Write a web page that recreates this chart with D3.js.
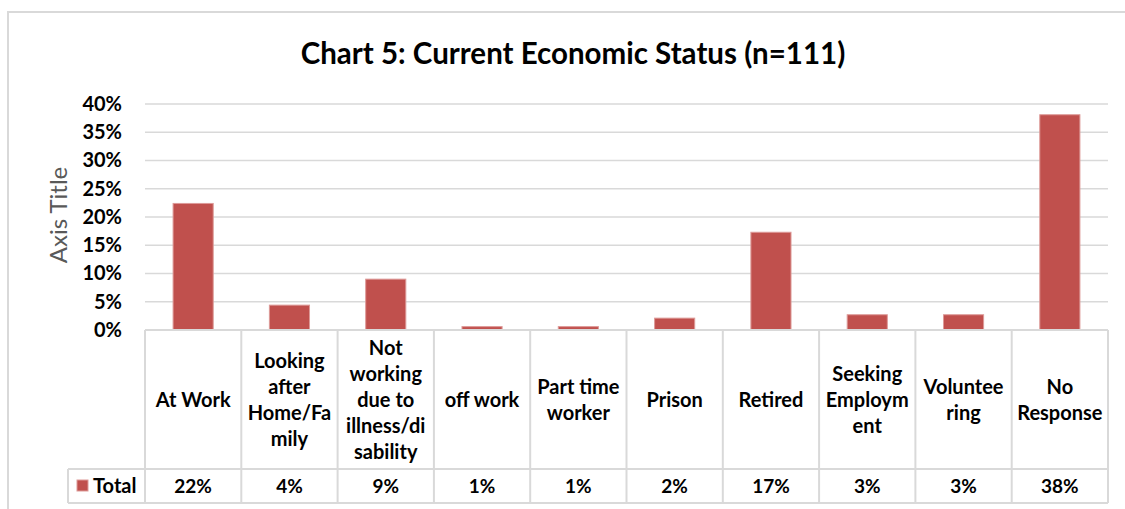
<!DOCTYPE html>
<html>
<head>
<meta charset="utf-8">
<script src="https://cdn.jsdelivr.net/npm/d3@7"></script>
<style>
  html, body { margin: 0; padding: 0; background: #fff; }
  svg { display: block; font-family: Lato, "Liberation Sans", sans-serif; }
</style>
</head>
<body>
<svg id="chart" width="1125" height="509"></svg>
<script>
// Economic status of respondents (n=111)
const categories = ["At Work", "Looking after Home/Family", "Not working due to illness/disability",
  "off work", "Part time worker", "Prison", "Retired", "Seeking Employment", "Volunteering", "No Response"];
// Wrapped header text shown in the data table
const categoryLines = [
  ["At Work"],
  ["Looking", "after", "Home/Fa", "mily"],
  ["Not", "working", "due to", "illness/di", "sability"],
  ["off work"],
  ["Part time", "worker"],
  ["Prison"],
  ["Retired"],
  ["Seeking", "Employm", "ent"],
  ["Voluntee", "ring"],
  ["No", "Response"]
];
const totals = [0.224, 0.044, 0.090, 0.006, 0.006, 0.021, 0.173, 0.027, 0.027, 0.381];
const yTicks = [0, 0.05, 0.10, 0.15, 0.20, 0.25, 0.30, 0.35, 0.40];
const seriesName = "Total";
const chartTitle = "Chart 5: Current Economic Status (n=111)";
const axisTitle = "Axis Title";

const svg = d3.select("#chart");
const W = 1125, H = 509;
const plot = { left: 145, right: 1108, top: 104, bottom: 330 };
const tableValueTop = 469, tableBottom = 503, legendLeft = 68;
const gridColor = "#d9d9d9";
const barColor = "#c0504d";
const fmt = d3.format(".0%");

// Outer chart frame
svg.append("path")
  .attr("d", `M8,${H} L8,12 L${W},12`)
  .attr("fill", "none").attr("stroke", gridColor).attr("stroke-width", 2);

// Title
svg.append("text")
  .attr("x", 573).attr("y", 64)
  .attr("text-anchor", "middle")
  .attr("font-size", 29.5).attr("font-weight", 700).attr("fill", "#000")
  .text(chartTitle);

const x = d3.scaleBand().domain(categories).range([plot.left, plot.right]).paddingInner(0).paddingOuter(0);
const y = d3.scaleLinear().domain([0, 0.40]).range([plot.bottom, plot.top]);

// Gridlines
svg.append("g")
  .selectAll("line").data(yTicks.slice(1)).join("line")
  .attr("x1", plot.left).attr("x2", plot.right)
  .attr("y1", d => y(d)).attr("y2", d => y(d))
  .attr("stroke", gridColor).attr("stroke-width", 1.5);

// Y axis labels
const yAxis = d3.axisLeft(y).tickValues(yTicks).tickFormat(fmt).tickSize(0).tickPadding(0);
const yg = svg.append("g").attr("transform", `translate(122,0)`).call(yAxis);
yg.select(".domain").remove();
yg.selectAll("text")
  .attr("font-family", "Lato, sans-serif")
  .attr("font-size", 20).attr("font-weight", 700).attr("fill", "#000");

// Axis title
svg.append("text")
  .attr("transform", `translate(67,${(plot.top + plot.bottom) / 2 - 2}) rotate(-90)`)
  .attr("text-anchor", "middle")
  .attr("font-size", 24).attr("fill", "#595959")
  .text(axisTitle);

// Bars
const barW = x.bandwidth() / 2.4;
svg.append("g")
  .selectAll("rect").data(categories).join("rect")
  .attr("x", d => x(d) + (x.bandwidth() - barW) / 2)
  .attr("width", barW)
  .attr("y", (d, i) => y(totals[i]))
  .attr("height", (d, i) => y(0) - y(totals[i]))
  .attr("fill", barColor)
  .attr("stroke", "#dd9a98").attr("stroke-width", 1);

// Data table grid
const tg = svg.append("g").attr("stroke", gridColor).attr("stroke-width", 2).attr("fill", "none");
tg.append("line").attr("x1", plot.left).attr("x2", plot.right).attr("y1", plot.bottom).attr("y2", plot.bottom);
tg.append("line").attr("x1", legendLeft).attr("x2", plot.right).attr("y1", tableValueTop).attr("y2", tableValueTop);
tg.append("line").attr("x1", legendLeft).attr("x2", plot.right).attr("y1", tableBottom).attr("y2", tableBottom);
tg.append("line").attr("x1", legendLeft).attr("x2", legendLeft).attr("y1", tableValueTop).attr("y2", tableBottom);
tg.selectAll("line.col").data(categories.map(c => x(c)).concat([plot.right])).join("line")
  .attr("class", "col")
  .attr("x1", d => d).attr("x2", d => d)
  .attr("y1", plot.bottom).attr("y2", tableBottom);

// Header cells
const lineH = 26;
const hdr = svg.append("g")
  .attr("font-size", 20).attr("font-weight", 700).attr("fill", "#000").attr("text-anchor", "middle");
const headerMid = (plot.bottom + tableValueTop) / 2;
categories.forEach((c, i) => {
  const lines = categoryLines[i];
  const t = hdr.append("text").attr("x", x(c) + x.bandwidth() / 2);
  lines.forEach((ln, j) => {
    t.append("tspan")
      .attr("x", x(c) + x.bandwidth() / 2)
      .attr("y", headerMid + (j - (lines.length - 1) / 2) * lineH)
      .attr("dy", "0.35em")
      .text(ln);
  });
});

// Value row
const valMid = (tableValueTop + tableBottom) / 2;
svg.append("g")
  .selectAll("text").data(categories).join("text")
  .attr("x", d => x(d) + x.bandwidth() / 2)
  .attr("y", valMid).attr("dy", "0.35em")
  .attr("text-anchor", "middle")
  .attr("font-size", 19).attr("font-weight", 700)
  .text((d, i) => fmt(totals[i]));

// Legend key in table
svg.append("rect")
  .attr("x", 77).attr("y", valMid - 6).attr("width", 11).attr("height", 11)
  .attr("fill", barColor).attr("stroke", "#dd9a98").attr("stroke-width", 1);
svg.append("text")
  .attr("x", 93).attr("y", valMid).attr("dy", "0.35em")
  .attr("font-size", 20).attr("font-weight", 700)
  .text(seriesName);
</script>
</body>
</html>
